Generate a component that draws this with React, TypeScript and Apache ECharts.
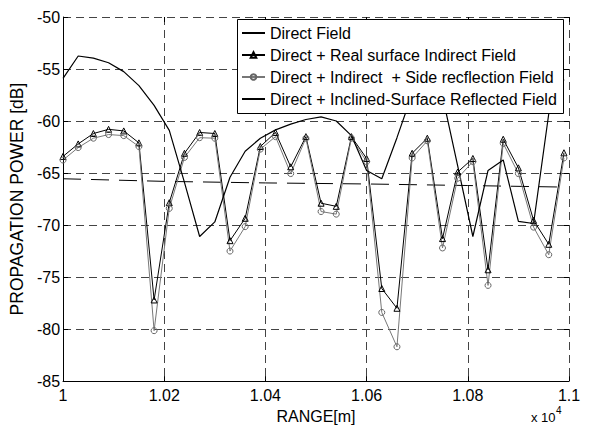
import React, { useEffect, useRef } from "react";
import * as echarts from "echarts";

const rangeM = [
  10000, 10030, 10060, 10090, 10120, 10150, 10180, 10210, 10240, 10270,
  10300, 10330, 10360, 10390, 10420, 10450, 10480, 10510, 10540, 10570,
  10600, 10630, 10660, 10690, 10720, 10750, 10780, 10810, 10840, 10870,
  10900, 10930, 10960, 10990,
];

const realSurface = [
  -63.4, -62.2, -61.2, -60.8, -60.95, -62.1, -77.2, -67.85, -63.1, -61.1,
  -61.2, -71.5, -69.35, -62.45, -61.1, -64.4, -61.5, -67.9, -68.2, -61.5,
  -63.6, -76.1, -78.0, -63.1, -61.65, -71.3, -64.9, -63.6, -74.3, -61.75,
  -64.5, -69.55, -71.85, -63.05,
];

const sideReflection = [
  -63.75, -62.55, -61.65, -61.3, -61.4, -62.45, -80.15, -68.4, -63.5, -61.6,
  -61.65, -72.5, -70.15, -62.7, -61.5, -65.05, -61.65, -68.7, -68.95, -61.65,
  -63.9, -78.4, -81.7, -63.55, -61.9, -72.2, -65.5, -63.9, -75.8, -62.15,
  -65.05, -70.2, -72.85, -63.55,
];

const inclined = [
  -55.9, -53.75, -53.95, -54.4, -55.25, -56.6, -58.5, -60.9, -65.9, -71.1,
  -69.7, -65.4, -62.9, -61.65, -60.85, -60.3, -59.85, -59.6, -60.0, -61.4,
  -64.75, -65.55, -61.6, -57.4, -55.5, -57.6, -64.3, -71.1, -64.75, -63.74,
  -69.65, -69.85, -59.3, -56.0,
];

const directRange = [10000, 10200, 10400, 10600, 10800, 10990];
const direct = [-65.55, -65.8, -65.95, -66.05, -66.2, -66.35];

const seriesNames = [
  "Direct Field",
  "Direct + Real surface Indirect Field",
  "Direct + Indirect  + Side recflection Field",
  "Direct + Inclined-Surface Reflected Field",
];

const FONT = "'Liberation Sans', Arial, Helvetica, sans-serif";

export default function App() {
  const ref = useRef<HTMLDivElement>(null);
  useEffect(() => {
    if (!ref.current) return;
    const chart = echarts.init(ref.current, null, { renderer: "svg" });
    const zip = (xs: number[], ys: number[]) => xs.map((x, i) => [x, ys[i]]);
    const gridLine = { show: true, lineStyle: { color: "#444", width: 1, type: [8, 5] as any } };
    chart.setOption({
      animation: false,
      backgroundColor: "#fff",
      grid: { left: 61, right: 25, top: 17, bottom: 47 },
      xAxis: [
        {
          type: "value",
          min: 10000,
          max: 11000,
          interval: 200,
          name: "RANGE[m]",
          nameLocation: "middle",
          nameGap: 20,
          nameTextStyle: { fontFamily: FONT, fontSize: 16, color: "#000" },
          axisLine: { show: true, onZero: false, lineStyle: { color: "#000", width: 1 } },
          axisTick: { show: true, inside: true, length: 5, lineStyle: { color: "#000" } },
          axisLabel: {
            fontFamily: FONT,
            fontSize: 16,
            color: "#000",
            margin: 6,
            formatter: (v: number) => String(+(v / 10000).toFixed(2)),
          },
          splitLine: gridLine,
        },
        {
          type: "value",
          position: "top",
          min: 10000,
          max: 11000,
          interval: 200,
          axisLine: { show: false },
          axisTick: { show: true, inside: true, length: 5, lineStyle: { color: "#000" } },
          axisLabel: { show: false },
          splitLine: { show: false },
        },
      ],
      yAxis: [
        {
          type: "value",
          min: -85,
          max: -50,
          interval: 5,
          name: "PROPAGATION POWER [dB]",
          nameLocation: "middle",
          nameGap: 28,
          nameTextStyle: { fontFamily: FONT, fontSize: 17.5, color: "#000" },
          axisLine: { show: true, onZero: false, lineStyle: { color: "#000", width: 1 } },
          axisTick: { show: true, inside: true, length: 5, lineStyle: { color: "#000" } },
          axisLabel: { fontFamily: FONT, fontSize: 16, color: "#000", margin: 3 },
          splitLine: gridLine,
        },
        {
          type: "value",
          position: "right",
          min: -85,
          max: -50,
          interval: 5,
          axisLine: { show: false },
          axisTick: { show: true, inside: true, length: 5, lineStyle: { color: "#000" } },
          axisLabel: { show: false },
          splitLine: { show: false },
        },
      ],
      legend: {
        data: [
          { name: seriesNames[0], lineStyle: { type: "solid" } },
          seriesNames[1],
          seriesNames[2],
          seriesNames[3],
        ],
        orient: "vertical",
        left: 241,
        top: 25,
        padding: 0,
        itemWidth: 23,
        itemHeight: 7,
        itemGap: 6,
        selectedMode: false,
        z: 60,
        textStyle: { fontFamily: FONT, fontSize: 16, color: "#000", lineHeight: 16 },
      },
      graphic: [
        {
          type: "rect",
          z: 50,
          shape: { x: 237.5, y: 19.5, width: 326, height: 94 },
          style: { fill: "#fff", stroke: "#000", lineWidth: 1 },
        },
        {
          type: "text",
          z: 50,
          left: 531,
          top: 411,
          style: { text: "x 10", fontFamily: FONT, fontSize: 13, fill: "#000" },
        },
        {
          type: "text",
          z: 50,
          left: 556,
          top: 405,
          style: { text: "4", fontFamily: FONT, fontSize: 10, fill: "#000" },
        },
      ],
      series: [
        {
          name: seriesNames[0],
          type: "line",
          data: zip(directRange, direct),
          symbol: "circle",
          showSymbol: false,
          itemStyle: { color: "rgba(0,0,0,0)", borderWidth: 0 },
          lineStyle: { color: "#000", width: 1, type: [18, 10] },
        },
        {
          name: seriesNames[1],
          type: "line",
          data: zip(rangeM, realSurface),
          symbol: "triangle",
          symbolSize: 6,
          itemStyle: { color: "rgba(0,0,0,0)", borderColor: "#000", borderWidth: 1 },
          lineStyle: { color: "#000", width: 1 },
        },
        {
          name: seriesNames[2],
          type: "line",
          data: zip(rangeM, sideReflection),
          symbol: "circle",
          symbolSize: 6,
          itemStyle: { color: "rgba(0,0,0,0)", borderColor: "#666", borderWidth: 1 },
          lineStyle: { color: "#777", width: 1 },
        },
        {
          name: seriesNames[3],
          type: "line",
          data: zip(rangeM, inclined),
          symbol: "circle",
          showSymbol: false,
          itemStyle: { color: "rgba(0,0,0,0)", borderWidth: 0 },
          lineStyle: { color: "#000", width: 1.2 },
        },
      ],
    });
    return () => chart.dispose();
  }, []);
  return (
    <div
      ref={ref}
      style={{ position: "absolute", left: 0, top: 0, width: 594, height: 429 }}
    />
  );
}
